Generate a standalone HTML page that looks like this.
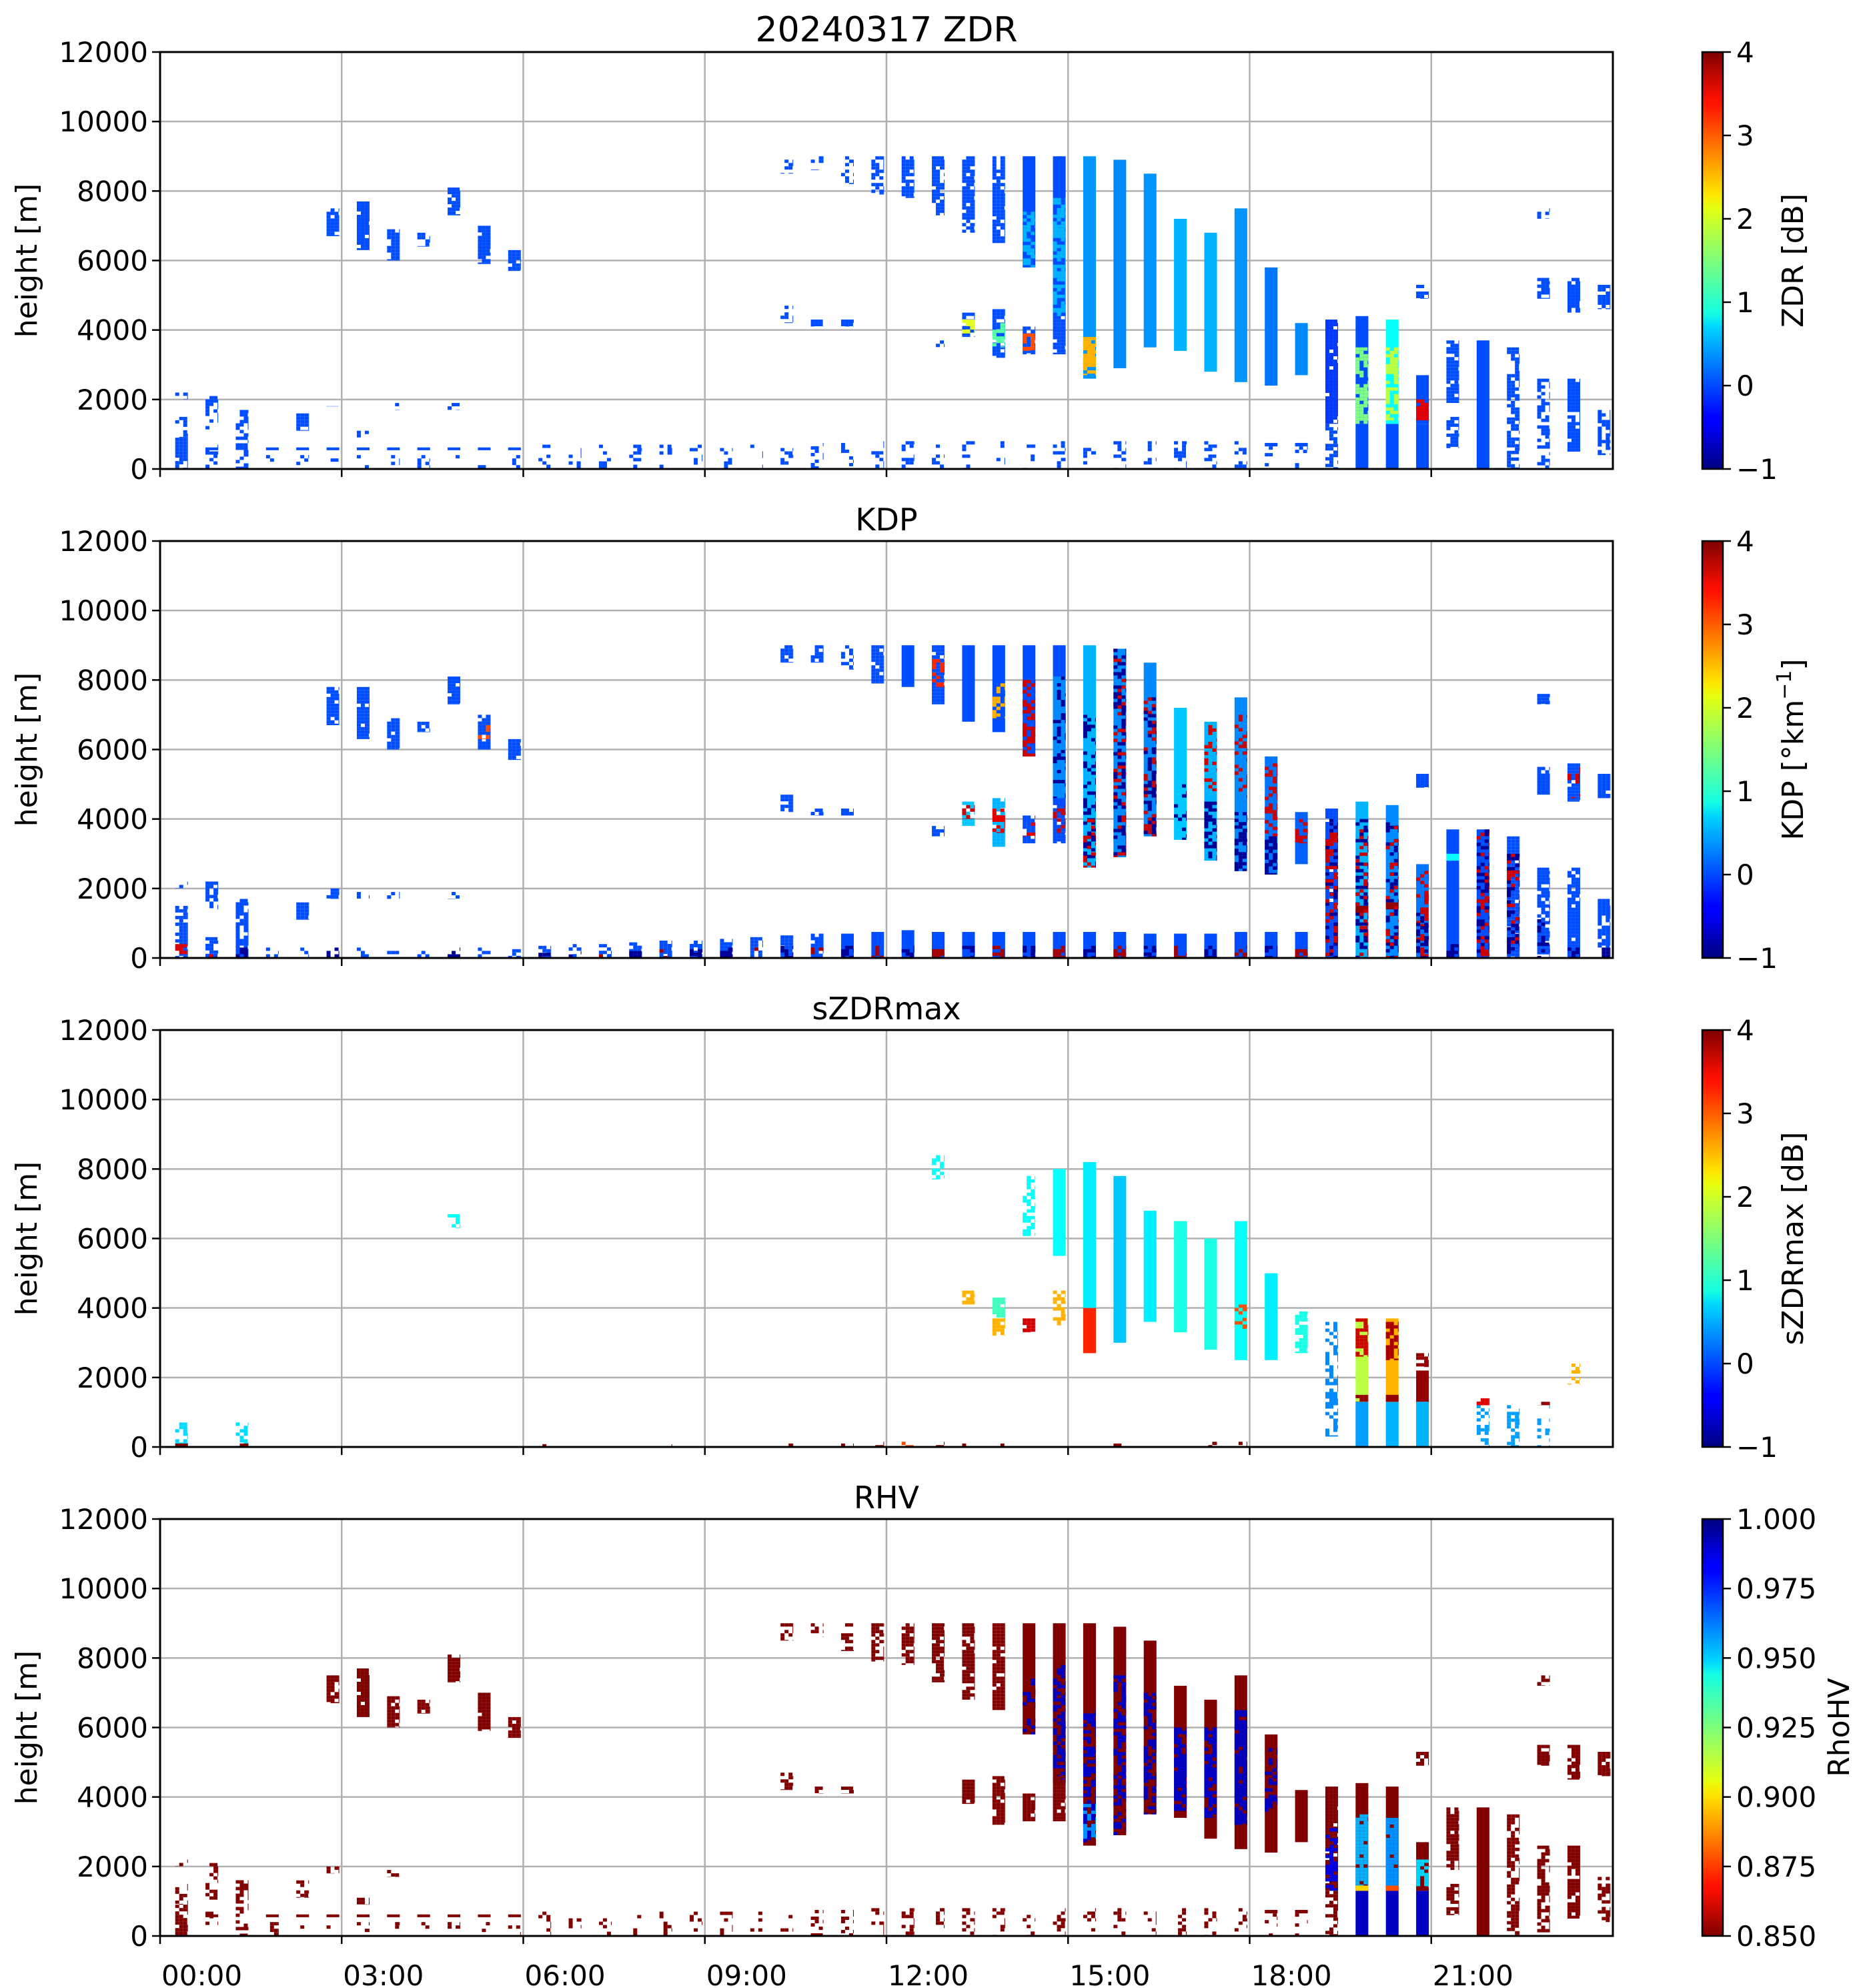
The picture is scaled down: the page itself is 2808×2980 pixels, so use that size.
<!DOCTYPE html>
<html><head><meta charset="utf-8">
<style>
html,body{margin:0;padding:0;background:#fff;}
svg{display:block;font-family:"DejaVu Sans","Liberation Sans",sans-serif;}
</style></head>
<body>
<svg id="fig" width="2808" height="2980" viewBox="0 0 2808 2980" xmlns="http://www.w3.org/2000/svg">
<defs>
<linearGradient id="jetUp" x1="0" y1="1" x2="0" y2="0">
<stop offset="0" stop-color="#00007f"/><stop offset="0.11" stop-color="#0000ff"/><stop offset="0.125" stop-color="#0000ff"/><stop offset="0.34" stop-color="#00d4ff"/><stop offset="0.375" stop-color="#16ffe1"/><stop offset="0.5" stop-color="#7dff7a"/><stop offset="0.625" stop-color="#e4ff13"/><stop offset="0.66" stop-color="#ffe600"/><stop offset="0.875" stop-color="#ff1300"/><stop offset="0.89" stop-color="#fa0f00"/><stop offset="1" stop-color="#7f0000"/>
</linearGradient>
<linearGradient id="jetDown" x1="0" y1="0" x2="0" y2="1">
<stop offset="0" stop-color="#00007f"/><stop offset="0.11" stop-color="#0000ff"/><stop offset="0.125" stop-color="#0000ff"/><stop offset="0.34" stop-color="#00d4ff"/><stop offset="0.375" stop-color="#16ffe1"/><stop offset="0.5" stop-color="#7dff7a"/><stop offset="0.625" stop-color="#e4ff13"/><stop offset="0.66" stop-color="#ffe600"/><stop offset="0.875" stop-color="#ff1300"/><stop offset="0.89" stop-color="#fa0f00"/><stop offset="1" stop-color="#7f0000"/>
</linearGradient>
</defs>
<g id="layer"></g>
</svg>
<script>
// ---- data ----
const scanHours = [0.25,0.75,1.25,1.75,2.25,2.75,3.25,3.75,4.25,4.75,5.25,5.75,6.25,6.75,7.25,7.75,8.25,8.75,9.25,9.75,10.25,10.75,11.25,11.75,12.25,12.75,13.25,13.75,14.25,14.75,15.25,15.75,16.25,16.75,17.25,17.75,18.25,18.75,19.25,19.75,20.25,20.75,21.25,21.75,22.25,22.75,23.25,23.75];
const xTickLabels = ["00:00","03:00","06:00","09:00","12:00","15:00","18:00","21:00"];
const xTickHours = [0,3,6,9,12,15,18,21];
const yTickValues = [0,2000,4000,6000,8000,10000,12000];
const panelTitles = ["20240317 ZDR","KDP","sZDRmax","RHV"];
const cbarTicksZ = ["−1","0","1","2","3","4"];
const cbarTickValsZ = [-1,0,1,2,3,4];
const cbarTicksR = ["0.850","0.875","0.900","0.925","0.950","0.975","1.000"];
const cbarTickValsR = [0.85,0.875,0.9,0.925,0.95,0.975,1.0];
// segments: [scanIndex, heightBottom, heightTop, value, coverage]
const zdrSegs = [
[0,0,900,0,0.8],[0,900,1500,0,0.4],[0,2000,2200,0,0.3],
[1,1000,2100,0,0.35],[1,0,700,0,0.25],[1,540,620,0,1],
[2,0,1700,0,0.5],[3,540,620,0,1],[3,0,400,0,0.2],
[4,1100,1600,0,0.7],[4,540,620,0,1],[4,0,400,0,0.2],
[5,6700,7500,0,0.85],[5,1800,2000,0,0.5],[5,540,620,0,1],[5,0,400,0,0.2],
[6,6300,7700,0,0.95],[6,900,1100,0,0.4],[6,540,620,0,1],[6,0,400,0,0.2],
[7,6000,6900,0,0.85],[7,1700,1900,0,0.4],[7,540,620,0,1],[7,0,400,0,0.2],
[8,6400,6800,0,0.6],[8,540,620,0,1],[8,0,400,0,0.2],
[9,7300,8100,0,0.85],[9,1700,1900,0,0.3],[9,540,620,0,1],[9,0,400,0,0.2],
[10,5900,7000,0,0.9],[10,540,620,0,1],[10,0,400,0,0.2],
[11,5700,6300,0,0.85],[11,540,620,0,1],[11,0,400,0,0.2],
[12,0,700,0,0.2],[13,0,700,0,0.2],[14,0,700,0,0.2],[15,0,700,0,0.2],[16,0,700,0,0.25],[17,0,700,0,0.25],[18,0,700,0,0.3],[19,0,700,0,0.3],
[20,8500,9000,0,0.5],[20,4200,4700,0,0.5],[20,0,700,0,0.3],
[21,8600,9000,0,0.4],[21,4100,4300,0,0.5],[21,0,750,0,0.3],
[22,8200,9000,0,0.4],[22,4100,4300,0,0.8],[22,0,750,0,0.3],
[23,7900,9000,0,0.6],[23,0,800,0,0.35],
[24,7800,9000,0,0.8],[24,0,800,0,0.35],
[25,7300,9000,0,0.75],[25,3500,3700,0,0.2],[25,0,800,0,0.3],
[26,6800,9000,0,0.75],[26,3800,4500,0,0.8],[26,3900,4300,2.0,0.8],[26,0,800,0,0.3],
[27,6500,9000,0,0.9],[27,3200,4600,0,0.8],[27,3500,4200,1.3,0.6],[27,0,800,0,0.3],
[28,5800,9000,0,1],[28,5800,7500,0.5,0.6],[28,3300,4100,0,0.8],[28,3400,3900,3.0,0.7],[28,0,800,0,0.3],
[29,4400,9000,0,1],[29,4400,7800,0.5,0.7],[29,3300,4500,0,0.9],[29,0,800,0,0.35],
[30,2600,9000,0.35,1],[30,2700,3800,2.5,0.8],[30,0,800,0,0.3],
[31,2900,8900,0.3,1],[31,0,800,0,0.3],
[32,3500,8500,0.35,1],[32,0,800,0,0.3],
[33,3400,7200,0.5,1],[33,0,800,0,0.3],
[34,2800,6800,0.5,1],[34,0,800,0,0.3],
[35,2500,7500,0.35,1],[35,0,800,0,0.35],
[36,2400,5800,0.2,1],[36,650,750,0,1],[36,0,650,0,0.2],
[37,2700,4200,0.3,1],[37,650,750,0,1],[37,0,650,0,0.2],
[38,1300,4300,-0.1,0.9],[38,0,1300,0,0.5],
[39,0,1300,0,1],[39,1300,4400,0,1],[39,1300,3500,1.5,0.7],
[40,0,1300,0,1],[40,1300,4300,0.9,1],[40,1400,3500,1.8,0.6],
[41,0,1300,0,1],[41,1300,2700,0,1],[41,1400,2000,3.5,0.85],[41,4900,5300,0,0.6],
[42,1900,3700,0,0.8],[42,600,1500,0,0.7],
[43,0,3700,0,1],
[44,0,3500,0,0.6],
[45,0,2600,0,0.6],[45,4900,5500,0,0.7],[45,7200,7500,0,0.5],
[46,500,2600,0,0.9],[46,4500,5500,0,0.8],
[47,400,1700,0,0.6],[47,4600,5300,0,0.8]
];
const kdpSegs = [
[0,0,1500,0,0.8],[0,0,400,3.5,0.5],[0,2000,2200,0,0.5],
[1,1400,2200,0,0.8],[1,0,600,0,0.5],[1,0,200,3.5,0.4],
[2,0,1700,0,0.7],[2,0,300,-0.9,0.5],
[3,0,300,0,0.4],[4,1100,1600,0,0.8],[4,0,300,0,0.4],
[5,6700,7800,0,0.85],[5,1700,2000,0,0.8],[5,0,300,-0.9,0.5],
[6,6300,7800,0,0.95],[6,1700,1900,0,0.5],[6,0,300,0,0.4],
[7,6000,6900,0,0.9],[7,1700,1900,0,0.5],[7,0,300,0,0.3],
[8,6500,6800,0,0.6],[8,0,300,0,0.3],
[9,7300,8100,0,0.9],[9,1700,1900,0,0.5],[9,0,300,-0.9,0.4],
[10,6000,7000,0,0.9],[10,6300,6700,3,0.4],[10,0,300,0,0.4],
[11,5700,6300,0,0.9],[11,0,350,0,0.5],
[12,0,350,0,0.6],[12,0,150,-0.9,0.6],[13,0,400,0,0.6],[13,0,200,-0.9,0.6],[14,0,400,0,0.6],[14,0,200,3.8,0.4],
[15,0,450,0,0.7],[15,0,200,-0.9,0.6],[16,0,500,0,0.7],[16,0,250,3.8,0.4],[17,0,500,0,0.7],[17,0,250,-0.9,0.6],
[18,0,550,0,0.8],[18,0,300,-0.9,0.6],[19,0,600,0,0.8],[19,0,300,3.8,0.4],
[20,8500,9000,0,0.8],[20,4200,4700,0,0.8],[20,0,650,0,0.9],[20,0,350,-0.9,0.6],
[21,8500,9000,0,0.6],[21,4100,4300,0,0.6],[21,0,700,0,0.9],[21,0,300,3.8,0.4],
[22,8300,9000,0,0.6],[22,4100,4300,0,0.9],[22,0,700,0,1],[22,0,350,-0.9,0.6],
[23,7900,9000,0,0.9],[23,0,750,0,1],[23,0,350,3.8,0.45],
[24,7800,9000,0,1],[24,0,800,0,1],[24,0,350,-0.9,0.6],
[25,7300,9000,0,0.95],[25,7800,8600,3.2,0.5],[25,3500,3800,0,0.5],[25,0,750,0,1],[25,0,350,3.8,0.45],
[26,6800,9000,0,1],[26,3800,4500,0.6,0.9],[26,4000,4400,3.6,0.5],[26,0,750,0,1],[26,0,350,-0.9,0.6],
[27,6500,9000,0,1],[27,6900,8000,2.5,0.4],[27,3200,4600,0.5,0.9],[27,3600,4300,3.5,0.5],[27,0,750,0,1],[27,0,350,3.8,0.45],
[28,5800,9000,0,1],[28,5800,8000,3.6,0.5],[28,3300,4100,0,0.9],[28,3500,3900,3.5,0.5],[28,0,750,0,1],[28,0,350,-0.9,0.6],
[29,4400,9000,0,1],[29,4600,8100,0.3,1],[29,4600,8100,-0.9,0.35],[29,3300,4600,0,0.9],[29,3600,4400,3.6,0.4],[29,0,750,0,1],[29,0,350,3.8,0.45],
[30,2600,9000,0.5,1],[30,2600,7000,-0.9,0.3],[30,2600,4000,3.6,0.3],[30,0,750,0,1],[30,0,350,-0.9,0.6],
[31,2900,8900,0.3,1],[31,2900,8900,3.6,0.25],[31,2900,8900,-0.9,0.3],[31,0,750,0,1],[31,0,350,3.8,0.45],
[32,3500,8500,0.3,1],[32,3500,7500,3.6,0.3],[32,3500,7500,-0.9,0.3],[32,0,700,0,1],[32,0,350,-0.9,0.6],
[33,3400,7200,0.6,1],[33,3400,5000,-0.9,0.4],[33,0,700,0,1],[33,0,350,3.8,0.45],
[34,2800,6800,0.5,1],[34,2800,4500,-0.9,0.6],[34,4800,6800,3.6,0.3],[34,0,700,0,1],[34,0,350,-0.9,0.6],
[35,2500,7500,0.3,1],[35,2500,4200,-0.9,0.5],[35,4500,7000,3.6,0.3],[35,0,750,0,1],[35,0,350,3.8,0.45],
[36,2400,5800,0.2,1],[36,3500,5600,3.6,0.45],[36,2400,3500,-0.9,0.6],[36,0,750,0,1],[36,0,350,-0.9,0.6],
[37,2700,4200,0.1,1],[37,3300,4000,3.6,0.4],[37,0,750,0,1],[37,0,350,3.8,0.45],
[38,0,4300,0,0.9],[38,0,4000,-0.9,0.35],[38,0,3800,3.6,0.3],
[39,0,4500,0.5,1],[39,0,4000,-0.9,0.35],[39,1300,1500,3.9,1],[39,0,3800,3.6,0.2],
[40,0,4400,0.3,1],[40,0,4000,-0.9,0.35],[40,1400,1600,3.9,1],[40,0,3800,3.6,0.2],
[41,0,2700,0.2,1],[41,0,2700,3.6,0.35],[41,0,1300,-0.9,0.4],[41,4900,5300,0,0.8],
[42,0,3700,0,1],[42,2800,3000,0.9,1],[42,0,400,-0.9,0.5],
[43,0,3700,0,1],[43,0,3700,3.6,0.35],[43,0,3700,-0.9,0.3],
[44,0,3500,0,0.9],[44,0,3000,3.6,0.3],[44,0,3000,-0.9,0.3],
[45,0,2600,0,0.8],[45,4700,5500,0,0.9],[45,7300,7600,0,0.8],[45,0,1500,-0.9,0.3],
[46,0,2600,0,0.9],[46,4500,5600,0,0.9],[46,4600,5500,3.6,0.3],[46,0,300,-0.9,0.5],
[47,300,1700,0,0.8],[47,4600,5300,0,0.9],[47,0,300,-0.9,0.5]
];
const szdrSegs = [
[0,0,800,0.7,0.5],[0,0,100,4,0.8],[2,0,800,0.7,0.4],[2,0,100,4,0.8],
[9,6300,6700,0.9,0.4],
[12,0,80,4,0.2],[16,0,80,4,0.2],[20,0,100,4,0.2],[22,0,100,4,0.25],[23,0,150,4,0.3],[24,0,150,3,0.3],[25,0,150,4,0.3],[26,0,100,4,0.3],[27,0,100,4,0.3],[28,0,100,4,0.3],[29,0,100,4,0.3],[31,0,100,4,0.3],[33,0,100,4,0.3],[34,0,150,4,0.3],[35,0,150,4,0.3],
[25,7700,8400,0.9,0.6],
[26,4100,4500,2.5,0.8],
[27,3600,4300,1.2,0.6],[27,3200,3700,2.5,0.7],
[28,6000,7800,0.9,0.6],[28,3300,3700,3.6,0.8],
[29,5500,8000,0.9,1],[29,3500,4500,2.5,0.6],
[30,4000,8200,0.8,1],[30,2700,4000,3.2,1],
[31,3000,7800,0.6,1],
[32,3600,6800,0.8,1],
[33,3300,6500,1.0,1],
[34,2800,6000,1.0,1],
[35,2500,6500,0.9,1],[35,3400,4100,3.0,0.5],
[36,2500,5000,0.8,1],
[37,2700,3900,1.0,0.8],
[38,300,3600,0.3,0.6],
[39,0,1300,0.4,1],[39,1300,3700,1.8,1],[39,2600,3700,3.6,0.6],[39,1300,1500,3.9,0.8],
[40,0,1300,0.5,1],[40,1300,3700,2.5,1],[40,2500,3600,3.8,0.6],[40,1300,1500,3.9,1],
[41,1300,2200,3.9,1],[41,2300,2700,3.9,0.5],[41,0,1300,0.5,1],
[43,0,1500,0.4,0.5],[43,1200,1400,3.5,0.8],[44,0,1300,0.4,0.5],[45,0,1300,0.4,0.3],[45,1200,1300,3.9,0.8],
[46,1800,2400,2.5,0.4]
];
const rhvSegs = [
[0,0,900,0.85,0.8],[0,900,1500,0.85,0.4],[0,2000,2200,0.85,0.3],
[1,1000,2100,0.85,0.35],[1,0,700,0.85,0.25],[1,540,620,0.85,1],
[2,0,1700,0.85,0.5],[3,540,620,0.85,1],[3,0,400,0.85,0.2],
[4,1100,1600,0.85,0.7],[4,540,620,0.85,1],[4,0,400,0.85,0.2],
[5,6700,7500,0.85,0.85],[5,1800,2000,0.85,0.5],[5,540,620,0.85,1],[5,0,400,0.85,0.2],
[6,6300,7700,0.85,0.95],[6,900,1100,0.85,0.4],[6,540,620,0.85,1],[6,0,400,0.85,0.2],
[7,6000,6900,0.85,0.85],[7,1700,1900,0.85,0.4],[7,540,620,0.85,1],[7,0,400,0.85,0.2],
[8,6400,6800,0.85,0.6],[8,540,620,0.85,1],[8,0,400,0.85,0.2],
[9,7300,8100,0.85,0.85],[9,540,620,0.85,1],[9,0,400,0.85,0.2],
[10,5900,7000,0.85,0.9],[10,540,620,0.85,1],[10,0,400,0.85,0.2],
[11,5700,6300,0.85,0.85],[11,540,620,0.85,1],[11,0,400,0.85,0.2],
[12,0,700,0.85,0.2],[13,0,700,0.85,0.2],[14,0,700,0.85,0.2],[15,0,700,0.85,0.2],[16,0,700,0.85,0.25],[17,0,700,0.85,0.25],[18,0,700,0.85,0.3],[19,0,700,0.85,0.3],
[20,8500,9000,0.85,0.5],[20,4200,4700,0.85,0.5],[20,0,700,0.85,0.3],
[21,8600,9000,0.85,0.4],[21,4100,4300,0.85,0.5],[21,0,750,0.85,0.3],
[22,8200,9000,0.85,0.4],[22,4100,4300,0.85,0.8],[22,0,750,0.85,0.3],
[23,7900,9000,0.85,0.6],[23,0,800,0.85,0.35],
[24,7800,9000,0.85,0.8],[24,0,800,0.85,0.35],
[25,7300,9000,0.85,0.75],[25,0,800,0.85,0.3],
[26,6800,9000,0.85,0.8],[26,3800,4500,0.85,0.85],[26,0,800,0.85,0.3],
[27,6500,9000,0.85,0.95],[27,3200,4600,0.85,0.85],[27,0,800,0.85,0.3],
[28,5800,9000,0.85,1],[28,5800,7500,0.99,0.25],[28,3300,4100,0.85,0.9],[28,0,800,0.85,0.3],
[29,4400,9000,0.85,1],[29,4400,7800,0.99,0.45],[29,3300,4600,0.85,0.9],[29,0,800,0.85,0.35],
[30,2600,9000,0.85,1],[30,2700,6500,0.99,0.55],[30,2800,3800,0.96,0.6],[30,0,800,0.85,0.3],
[31,2900,8900,0.85,1],[31,2900,7500,0.99,0.5],[31,0,800,0.85,0.3],
[32,3500,8500,0.85,1],[32,3500,7000,0.99,0.5],[32,0,800,0.85,0.3],
[33,3400,7200,0.85,1],[33,3600,6000,0.99,0.8],[33,0,800,0.85,0.3],
[34,2800,6800,0.85,1],[34,3400,6000,0.99,0.8],[34,0,800,0.85,0.3],
[35,2500,7500,0.85,1],[35,3200,6500,0.99,0.85],[35,0,800,0.85,0.35],
[36,2400,5800,0.85,1],[36,3500,5500,0.99,0.4],[36,650,750,0.85,1],[36,0,650,0.85,0.2],
[37,2700,4200,0.85,1],[37,650,750,0.85,1],[37,0,650,0.85,0.2],
[38,1300,4300,0.85,0.9],[38,1300,3200,0.985,0.5],[38,0,1300,0.85,0.5],
[39,0,1300,0.99,1],[39,1300,4400,0.85,1],[39,1400,3500,0.955,0.9],[39,1300,1450,0.9,1],
[40,0,1300,0.99,1],[40,1300,4300,0.85,1],[40,1400,3400,0.96,0.9],[40,1300,1450,0.88,1],
[41,0,1300,0.99,1],[41,1300,2700,0.85,1],[41,1400,2200,0.95,0.6],[41,4900,5300,0.85,0.6],
[42,1900,3700,0.85,0.8],[42,600,1500,0.85,0.7],
[43,0,3700,0.85,1],
[44,0,3500,0.85,0.6],
[45,0,2600,0.85,0.6],[45,4900,5500,0.85,0.7],[45,7200,7500,0.85,0.5],
[46,500,2600,0.85,0.9],[46,4500,5500,0.85,0.8],
[47,400,1700,0.85,0.6],[47,4600,5300,0.85,0.8]
];
// ---- layout ----
const NS = "http://www.w3.org/2000/svg";
const AX_L = 240, AX_R = 2418, AX_H = 625;
const panelTops = [78, 811, 1544, 2277];
const CB_L = 2552, CB_W = 31;
const SCAN_W = 0.21;
const CELL_W = 6, CELL_H = 5;
const layer = document.getElementById('layer');
function el(tag, attrs, parent){ const e=document.createElementNS(NS,tag); for(const k in attrs) e.setAttribute(k,attrs[k]); (parent||layer).appendChild(e); return e; }
function xScale(h){ return AX_L + h*(AX_R-AX_L)/24; }
function yScale(top, m){ return top + AX_H*(1 - m/12000); }
function jet(x){ x=Math.max(0,Math.min(1,x)); const c=v=>Math.round(255*Math.max(0,Math.min(1,v)));
  return `rgb(${c(1.5-Math.abs(4*x-3))},${c(1.5-Math.abs(4*x-2))},${c(1.5-Math.abs(4*x-1))})`; }
// deterministic speckle texture (rendering only)
function speck(i,j,salt){
  let h = Math.imul(i|0, 374761393) ^ Math.imul(j|0, 668265263) ^ Math.imul(salt|0, 0x9E3779B1);
  h = Math.imul(h ^ (h>>>13), 1274126177);
  h = Math.imul(h ^ (h>>>16), 0x85EBCA6B);
  h ^= h>>>15;
  return (h>>>0)/4294967296;
}
const norms = [v=>(v+1)/5, v=>(v+1)/5, v=>(v+1)/5, v=>1-(v-0.85)/0.15];
const allSegs = [zdrSegs, kdpSegs, szdrSegs, rhvSegs];
const cbLabels = ["ZDR [dB]", null, "sZDRmax [dB]", "RhoHV"];
const panelNames = ["zdr","kdp","szdrmax","rhv"];

panelTops.forEach((top, p) => {
  const g = el('g', {});
  
  
  xTickHours.forEach((h,i) => {
    if (i===0) return;
    const ln = el('line',{x1:xScale(h),x2:xScale(h),y1:top,y2:top+AX_H,stroke:'#b0b0b0','stroke-width':2.5},g);
    
    
  });
  yTickValues.forEach(v => {
    const ln = el('line',{x1:AX_L,x2:AX_R,y1:yScale(top,v),y2:yScale(top,v),stroke:'#b0b0b0','stroke-width':2.5},g);
    
    
  });
  const dg = el('g',{},g);
  
  
  allSegs[p].forEach((s, si) => {
    const t0 = scanHours[s[0]];
    const x0 = xScale(t0), x1 = xScale(t0+SCAN_W);
    const y1 = yScale(top, s[1]), y0 = yScale(top, s[2]);
    const col = jet(norms[p](s[3]));
    const h = Math.max(3, y1-y0);
    if (s[4] >= 0.99) {
      const r = el('rect',{x:x0,y:y0,width:x1-x0,height:h,fill:col},dg);
      
      
    } else {
      const nx = Math.ceil((x1-x0)/CELL_W), ny = Math.max(1, Math.ceil(h/CELL_H));
      for (let j=0;j<ny;j++) for (let i=0;i<nx;i++) {
        if (speck(i + s[0]*7, j, si*31 + p*1009 + 17) < s[4]) {
          const cw = Math.min(CELL_W, x1-x0-i*CELL_W), chh = Math.min(CELL_H, h-j*CELL_H);
          const r = el('rect',{x:x0+i*CELL_W,y:y0+j*CELL_H,width:cw,height:chh,fill:col},dg);
          
          
        }
      }
    }
  });
  const fr = el('rect',{x:AX_L,y:top,width:AX_R-AX_L,height:AX_H,fill:'none',stroke:'#000','stroke-width':3},g);
  
  
  yTickValues.forEach(v => {
    const y = yScale(top,v);
    el('line',{x1:AX_L-12,x2:AX_L,y1:y,y2:y,stroke:'#000','stroke-width':2.5},g);
    const t = el('text',{x:AX_L-18,y:y+15,'text-anchor':'end','font-size':42},g);
    t.textContent = v;
    
    
  });
  xTickHours.forEach((h,i) => {
    el('line',{x1:xScale(h),x2:xScale(h),y1:top+AX_H,y2:top+AX_H+12,stroke:'#000','stroke-width':2.5},g);
    if (p===3) {
      const t = el('text',{x:xScale(h)+2,y:top+AX_H+74,'text-anchor':'start','font-size':42},g);
      t.textContent = xTickLabels[i];
      
      
    }
  });
  const yl = el('text',{x:0,y:0,transform:`translate(55,${top+AX_H/2}) rotate(-90)`,'text-anchor':'middle','font-size':44},g);
  yl.textContent = 'height [m]';
  
  
  const tt = el('text',{x:(AX_L+AX_R)/2,y:top-16,'text-anchor':'middle','font-size':p===0?52:46},g);
  tt.textContent = panelTitles[p];
  
  
  const cb = el('g',{},g);
  
  
  el('rect',{x:CB_L,y:top,width:CB_W,height:AX_H,fill:p===3?'url(#jetDown)':'url(#jetUp)',stroke:'#000','stroke-width':2.5},cb);
  const labs = p===3 ? cbarTicksR : cbarTicksZ;
  const vals = p===3 ? cbarTickValsR : cbarTickValsZ;
  vals.forEach((v,i) => {
    const frac = p===3 ? (v-0.85)/0.15 : (v+1)/5;
    const y = top + AX_H*(1-frac);
    el('line',{x1:CB_L+CB_W,x2:CB_L+CB_W+12,y1:y,y2:y,stroke:'#000','stroke-width':2.5},cb);
    const t = el('text',{x:CB_L+CB_W+20,y:y+15,'font-size':42},cb);
    t.textContent = labs[i];
    
    
  });
  const lx = p===3 ? 2772 : 2703;
  const cl = el('text',{x:0,y:0,transform:`translate(${lx},${top+AX_H/2}) rotate(-90)`,'text-anchor':'middle','font-size':44},cb);
  if (p===1) {
    cl.appendChild(document.createTextNode('KDP [°km'));
    const sup = el('tspan',{'font-size':30,dy:-18},cl); sup.textContent='−1';
    const rest = el('tspan',{dy:18},cl); rest.textContent=']';
  } else {
    cl.textContent = cbLabels[p];
  }
  
  
});
</script>
</body></html>
